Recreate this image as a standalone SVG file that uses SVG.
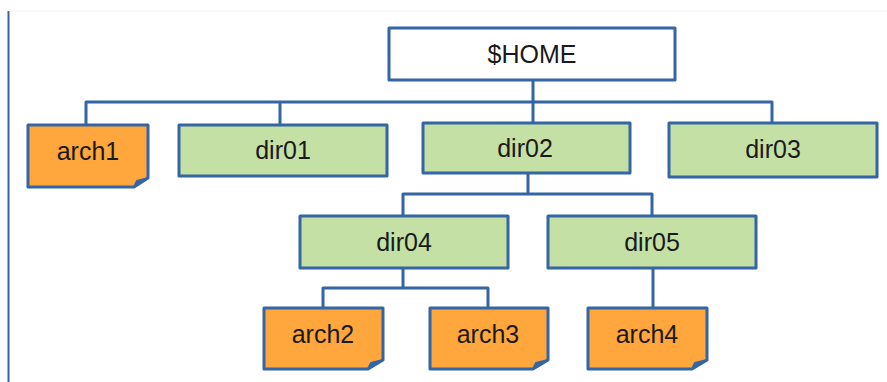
<svg xmlns="http://www.w3.org/2000/svg" width="887" height="382" viewBox="0 0 887 382">
  <style>
    .box { stroke: #3465a4; stroke-width: 3; stroke-linejoin: round; }
    .dir { fill: #c5e0a5; }
    .file { fill: #ffa63c; }
    .root { fill: #ffffff; }
    .fold { fill: #3465a4; stroke: #3465a4; stroke-width: 2; stroke-linejoin: round; }
    .lbl { font-family: "Liberation Sans", Arial, sans-serif; font-size: 25px; fill: #1a1a1a; text-anchor: middle; }
    .wire { fill: none; stroke: #3465a4; stroke-width: 3; stroke-linejoin: round; }
  </style>

  <!-- page frame -->
  <line x1="8.5" y1="11" x2="8.5" y2="382" stroke="#3465a4" stroke-width="2"/>
  <line x1="9" y1="11" x2="887" y2="11" stroke="#f2f2f2" stroke-width="1"/>

  <!-- connectors -->
  <g id="connectors" class="wire">
    <path d="M533 80 V102"/>
    <path d="M86 125 V102 H772 V123"/>
    <path d="M280 102 V125"/>
    <path d="M533 102 V123"/>
    <path d="M528 173 V194"/>
    <path d="M403 216 V194 H652 V216"/>
    <path d="M403 268 V288"/>
    <path d="M323 308 V288 H488 V308"/>
    <path d="M653 268 V308"/>
  </g>

  <g id="home">
    <rect class="box root" x="389" y="28" width="286" height="52"/>
    <text class="lbl" x="532" y="63">$HOME</text>
  </g>

  <g id="arch1">
    <path class="box file" d="M28 125 H148 V178 L134 187 H28 Z"/>
    <path class="fold" d="M148 178 L134 187 L137 181 Z"/>
    <text class="lbl" x="88" y="160">arch1</text>
  </g>

  <g id="dir01">
    <rect class="box dir" x="179" y="125" width="208" height="51"/>
    <text class="lbl" x="283" y="159">dir01</text>
  </g>

  <g id="dir02">
    <rect class="box dir" x="423" y="123" width="207" height="50"/>
    <text class="lbl" x="525" y="157">dir02</text>
  </g>

  <g id="dir03">
    <rect class="box dir" x="669" y="123" width="208" height="54"/>
    <text class="lbl" x="773" y="158">dir03</text>
  </g>

  <g id="dir04">
    <rect class="box dir" x="300" y="216" width="208" height="52"/>
    <text class="lbl" x="404" y="251">dir04</text>
  </g>

  <g id="dir05">
    <rect class="box dir" x="548" y="216" width="208" height="52"/>
    <text class="lbl" x="652" y="251">dir05</text>
  </g>

  <g id="arch2">
    <path class="box file" d="M264 308 H383 V360 L368 369 H264 Z"/>
    <path class="fold" d="M383 360 L368 369 L371 363 Z"/>
    <text class="lbl" x="323" y="343">arch2</text>
  </g>

  <g id="arch3">
    <path class="box file" d="M430 308 H548 V360 L533 369 H430 Z"/>
    <path class="fold" d="M548 360 L533 369 L536 363 Z"/>
    <text class="lbl" x="488" y="343">arch3</text>
  </g>

  <g id="arch4">
    <path class="box file" d="M588 308 H707 V360 L692 369 H588 Z"/>
    <path class="fold" d="M707 360 L692 369 L695 363 Z"/>
    <text class="lbl" x="647" y="343">arch4</text>
  </g>
</svg>
